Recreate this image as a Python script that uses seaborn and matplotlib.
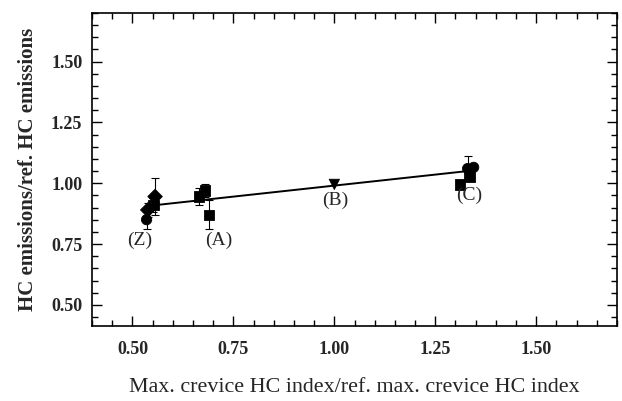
import numpy as np
import pandas as pd
import matplotlib
matplotlib.use("Agg")
import matplotlib.pyplot as plt
from matplotlib.ticker import MultipleLocator
import seaborn as sns

# values
x_vals = [0.535, 0.538, 0.552, 0.556, 0.665, 0.680, 0.690, 1.000, 1.312, 1.330, 1.335, 1.345]
y_vals = [0.850, 0.890, 0.910, 0.945, 0.945, 0.970, 0.870, 0.995, 0.995, 1.060, 1.025, 1.065]
y_err = [0.040, 0.030, 0.030, 0.075, 0.035, 0.025, 0.060, 0.000, 0.000, 0.050, 0.010, 0.000]
shapes = ["circle", "diamond", "square", "diamond", "square", "square", "square",
          "triangle", "square", "circle", "square", "circle"]

# linear fit drawn through the data range
fit_slope = 0.181
fit_intercept = 0.809

labels = ["(Z)", "(A)", "(B)", "(C)"]
label_x = [0.518, 0.713, 1.003, 1.335]
label_y = [0.764, 0.764, 0.928, 0.950]

tick_vals = [0.50, 0.75, 1.00, 1.25, 1.50]
tick_text = ["0.50", "0.75", "1.00", "1.25", "1.50"]

df = pd.DataFrame({"x": x_vals, "y": y_vals, "err": y_err, "shape": shapes})

sns.set_style("ticks")
plt.rcParams["font.family"] = ["Liberation Serif", "DejaVu Serif"]

fig = plt.figure(figsize=(6.22, 4.01), dpi=100)
ax = fig.add_axes([0.148, 0.187, 0.844, 0.781])

# regression line
xs = np.array([df["x"].min(), df["x"].max()])
ax.plot(xs, fit_intercept + fit_slope * xs, color="black", lw=1.4, zorder=2)

# error bars
e = df[df["err"] > 0]
ax.errorbar(e["x"], e["y"], yerr=e["err"], fmt="none", ecolor="black",
            elinewidth=0.8, capsize=3, capthick=0.8, zorder=2)

sns.scatterplot(data=df, x="x", y="y", style="shape",
                markers={"circle": "o", "diamond": "D", "square": "s", "triangle": "v"},
                color="black", s=55, edgecolor="black", legend=False, ax=ax, zorder=3)

for t, lx, ly in zip(labels, label_x, label_y):
    ax.text(lx, ly, t, ha="center", va="center", fontsize=14)

ax.set_xlim(0.40, 1.70)
ax.set_ylim(0.413, 1.70)
ax.set_xticks(tick_vals)
ax.set_yticks(tick_vals)
ax.xaxis.set_minor_locator(MultipleLocator(0.05))
ax.yaxis.set_minor_locator(MultipleLocator(0.05))
ax.set_xticklabels(tick_text, fontweight="bold", fontsize=13)
ax.set_yticklabels(tick_text, fontweight="bold", fontsize=13)
ax.tick_params(which="both", direction="in", top=True, right=True, width=1, color="black")
ax.tick_params(which="major", length=7)
ax.tick_params(axis="x", which="major", pad=11)
ax.tick_params(axis="y", which="major", pad=7)
ax.tick_params(which="minor", length=4)
for s in ax.spines.values():
    s.set_linewidth(1.2)
    s.set_color("black")

ax.set_xlabel("Max. crevice HC index/ref. max. crevice HC index", fontsize=15.8)
ax.set_ylabel("HC emissions/ref. HC emissions", fontsize=15, fontweight="bold")
ax.xaxis.label.set_va("center")
ax.yaxis.label.set_va("center")
ax.xaxis.set_label_coords(0.5, -0.195)
ax.yaxis.set_label_coords(-0.122, 0.5)

fig.savefig("out.png", dpi=100)
